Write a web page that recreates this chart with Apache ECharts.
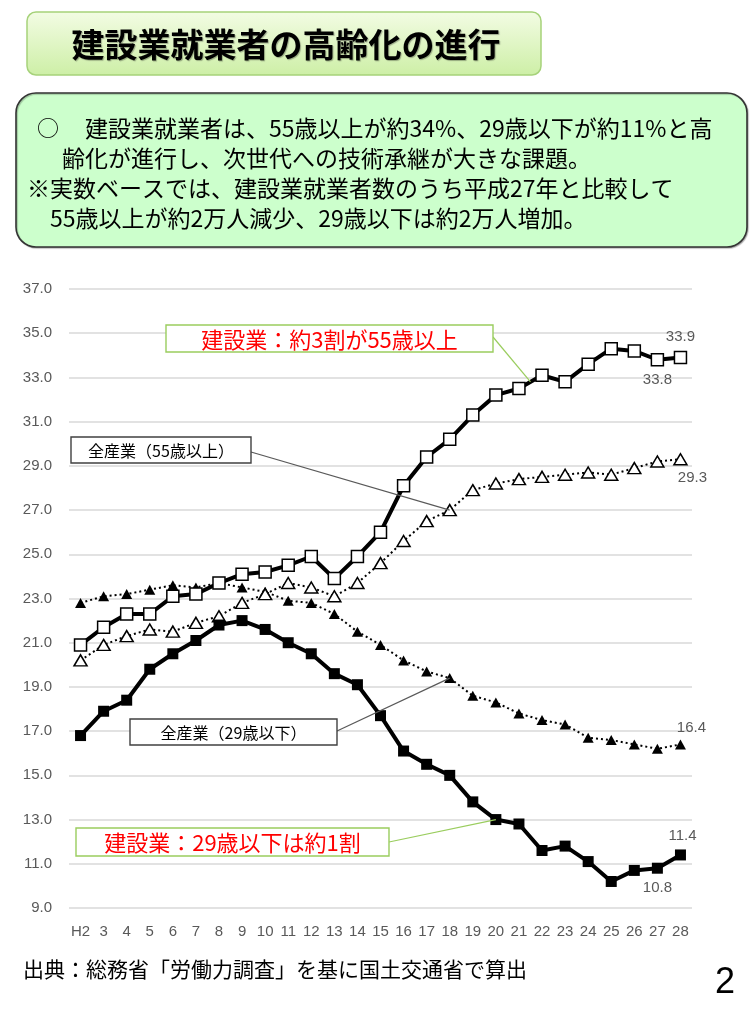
<!DOCTYPE html>
<html>
<head>
<meta charset="utf-8">
<script src="https://cdn.jsdelivr.net/npm/echarts@6/dist/echarts.min.js"></script>
<style>
html,body{margin:0;padding:0;background:#fff;}
#c{width:756px;height:1023px;}
</style>
</head>
<body>
<div id="c"></div>
<script>
// ---- data ----
const years = ['H2','3','4','5','6','7','8','9','10','11','12','13','14','15','16','17','18','19','20','21','22','23','24','25','26','27','28'];
// 建設業 55歳以上
const constr55 = [20.9,21.7,22.3,22.3,23.1,23.2,23.7,24.1,24.2,24.5,24.9,23.9,24.9,26.0,28.1,29.4,30.2,31.3,32.2,32.5,33.1,32.8,33.6,34.3,34.2,33.8,33.9];
// 全産業 55歳以上
const all55 = [20.2,20.9,21.3,21.6,21.5,21.9,22.2,22.8,23.2,23.7,23.5,23.1,23.7,24.6,25.6,26.5,27.0,27.9,28.2,28.4,28.5,28.6,28.7,28.6,28.9,29.2,29.3];
// 建設業 29歳以下
const constr29 = [16.8,17.9,18.4,19.8,20.5,21.1,21.8,22.0,21.6,21.0,20.5,19.6,19.1,17.7,16.1,15.5,15.0,13.8,13.0,12.8,11.6,11.8,11.1,10.2,10.7,10.8,11.4];
// 全産業 29歳以下
const all29 = [22.8,23.1,23.2,23.4,23.6,23.5,23.7,23.5,23.3,22.9,22.8,22.3,21.5,20.9,20.2,19.7,19.4,18.6,18.3,17.8,17.5,17.3,16.7,16.6,16.4,16.2,16.4];
const yMin = 9, yMax = 37, yStep = 2;

const titleText = '建設業就業者の高齢化の進行';
const infoLines = [
  '建設業就業者は、55歳以上が約34%、29歳以下が約11%と高',
  '齢化が進行し、次世代への技術承継が大きな課題。',
  '※実数ベースでは、建設業就業者数のうち平成27年と比較して',
  '55歳以上が約2万人減少、29歳以下は約2万人増加。'
];
const noteConstr55 = '建設業：約3割が55歳以上';
const noteAll55 = '全産業（55歳以上）';
const noteAll29 = '全産業（29歳以下）';
const noteConstr29 = '建設業：29歳以下は約1割';
const sourceText = '出典：総務省「労働力調査」を基に国土交通省で算出';
const pageNo = '2';

// ---- helpers ----
const GRAY = '#595959';
const NUMFONT = 'Liberation Sans';
const JPFONT = '"Noto Sans CJK JP"';
function lab(extra){
  return Object.assign({show:true,color:GRAY,fontSize:15,fontFamily:NUMFONT,formatter:p=>Number(p.value).toFixed(1)},extra);
}
function withLabels(values, map){
  return values.map((v,i)=> map[i] ? {value:v,label:lab(map[i])} : v);
}
const last = years.length-1;

const chart = echarts.init(document.getElementById('c'), null, {renderer:'canvas'});

const option = {
  animation:false,
  backgroundColor:'#fff',
  grid:{left:69,right:64,top:289,bottom:115,containLabel:false},
  xAxis:{
    type:'category',data:years,boundaryGap:true,
    axisLine:{show:false},axisTick:{show:false},
    axisLabel:{interval:0,color:GRAY,fontSize:15,fontFamily:NUMFONT,margin:16}
  },
  yAxis:{
    type:'value',min:yMin,max:yMax,interval:yStep,
    axisLine:{show:false},axisTick:{show:false},
    axisLabel:{color:GRAY,fontSize:15,fontFamily:NUMFONT,margin:17,formatter:v=>v.toFixed(1)},
    splitLine:{lineStyle:{color:'#d9d9d9',width:1.5}}
  },
  series:[
    {
      name:'全産業（29歳以下）',type:'line',z:2,
      data:withLabels(all29,{[last]:{position:'top',distance:4,offset:[11,0]}}),
      symbol:'triangle',symbolSize:[11,10],
      itemStyle:{color:'#000'},
      lineStyle:{color:'#000',width:2,type:[2,3]}
    },
    {
      name:'全産業（55歳以上）',type:'line',z:3,
      data:withLabels(all55,{[last]:{position:'bottom',distance:5,offset:[12,0]}}),
      symbol:'triangle',symbolSize:[13,11],
      itemStyle:{color:'#fff',borderColor:'#000',borderWidth:1.5},
      lineStyle:{color:'#000',width:2,type:[2,3]}
    },
    {
      name:'建設業（29歳以下）',type:'line',z:4,
      data:withLabels(constr29,{[last]:{position:'top',distance:6,offset:[2,0]},[last-1]:{position:'bottom',distance:7}}),
      symbol:'rect',symbolSize:11,
      itemStyle:{color:'#000'},
      lineStyle:{color:'#000',width:4}
    },
    {
      name:'建設業（55歳以上）',type:'line',z:5,
      data:withLabels(constr55,{[last]:{position:'top',distance:6},[last-1]:{position:'bottom',distance:6}}),
      symbol:'rect',symbolSize:12,
      itemStyle:{color:'#fff',borderColor:'#000',borderWidth:1.5},
      lineStyle:{color:'#000',width:4}
    }
  ]
};
chart.setOption(option);

// pixel positions of data points (through the chart's own scales)
function px(si, idx, arr){ return chart.convertToPixel({seriesIndex:si},[idx, arr[idx]]); }
const pC55a = px(3,19,constr55), pC55b = px(3,20,constr55);
const pC55 = [(pC55a[0]+pC55b[0])/2,(pC55a[1]+pC55b[1])/2];
const pA55 = px(1,16,all55);
const pA29 = px(0,16,all29);
const pC29 = px(2,18,constr29);

const GREEN = '#9acd5e';
function box(x,y,w,h,stroke,text,color,size){
  return [
    {type:'rect',shape:{x:x,y:y,width:w,height:h},style:{fill:'#fff',stroke:stroke,lineWidth:1.4},z:20},
    {type:'text',style:{text:text,x:x+w/2,y:y+h/2+1,textAlign:'center',textVerticalAlign:'middle',fill:color,font:size+'px '+JPFONT},z:21}
  ];
}
function line(x1,y1,x2,y2,color){
  return {type:'line',shape:{x1:x1,y1:y1,x2:x2,y2:y2},style:{stroke:color,lineWidth:1.2},z:19};
}

const graphics = [
  // title box
  {type:'rect',shape:{x:27,y:12,width:514,height:63,r:9},
   style:{fill:new echarts.graphic.LinearGradient(0,0,0,1,[{offset:0,color:'#f3fce4'},{offset:1,color:'#cdefa6'}]),stroke:'#a6d27a',lineWidth:1.5},z:10},
  {type:'text',style:{text:titleText,x:286,y:44,textAlign:'center',textVerticalAlign:'middle',fill:'#000',font:'bold 33px '+JPFONT,
   textShadowColor:'rgba(0,0,0,0.3)',textShadowOffsetX:1,textShadowOffsetY:1,textShadowBlur:1},z:11},
  // info box
  {type:'rect',shape:{x:16,y:93,width:731,height:154,r:20},
   style:{fill:'#ccffcc',stroke:'#333',lineWidth:1.6,shadowColor:'rgba(0,0,0,0.25)',shadowOffsetX:1,shadowOffsetY:1,shadowBlur:1},z:10},
  {type:'text',style:{text:'○',x:37,y:128,textVerticalAlign:'middle',fill:'#000',font:'22px '+JPFONT},z:11},
  {type:'text',style:{text:infoLines[0],x:85,y:128,textVerticalAlign:'middle',fill:'#000',font:'23px '+JPFONT},z:11},
  {type:'text',style:{text:infoLines[1],x:62,y:158,textVerticalAlign:'middle',fill:'#000',font:'23px '+JPFONT},z:11},
  {type:'text',style:{text:infoLines[2],x:27,y:188,textVerticalAlign:'middle',fill:'#000',font:'23px '+JPFONT},z:11},
  {type:'text',style:{text:infoLines[3],x:50,y:218,textVerticalAlign:'middle',fill:'#000',font:'23px '+JPFONT},z:11},
  // leader lines
  line(493,337,pC55[0],pC55[1],GREEN),
  line(251,452,pA55[0],pA55[1],'#595959'),
  line(337,731,pA29[0],pA29[1],'#595959'),
  line(389,842,pC29[0],pC29[1],GREEN),
  // annotation boxes
  ...box(166,325,327,27,GREEN,noteConstr55,'#ff0000',22),
  ...box(71,437,180,26,'#404040',noteAll55,'#000',16),
  ...box(130,719,207,26,'#404040',noteAll29,'#000',16),
  ...box(76,828,313,28,GREEN,noteConstr29,'#ff0000',22),
  // source & page number
  {type:'text',style:{text:sourceText,x:23,y:969,textVerticalAlign:'middle',fill:'#000',font:'21px '+JPFONT},z:11},
  {type:'text',style:{text:pageNo,x:725,y:983,textAlign:'center',textVerticalAlign:'middle',fill:'#000',font:'36px '+NUMFONT},z:11}
];
chart.setOption({graphic:graphics});
</script>
</body>
</html>
